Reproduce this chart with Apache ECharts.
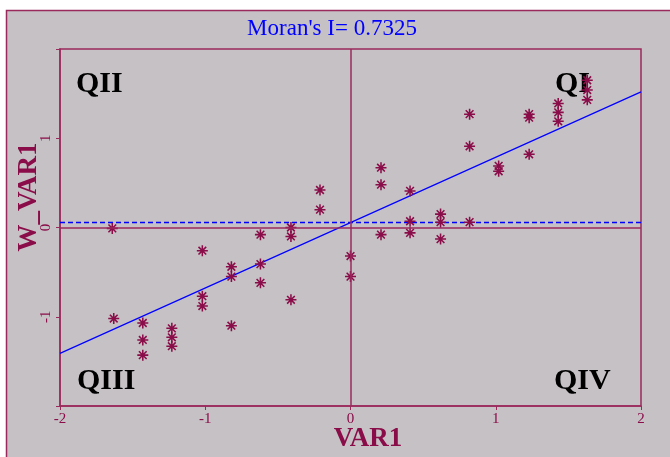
<!DOCTYPE html>
<html>
<head>
<meta charset="utf-8">
<script src="https://cdn.jsdelivr.net/npm/echarts@6/dist/echarts.min.js"></script>
<style>
html,body{margin:0;padding:0;background:#fff;}
#c{width:670px;height:457px;}
</style>
</head>
<body>
<div id="c"></div>
<script>
// Data (VAR1, W_VAR1)
const varX = [-1.64,-1.63,-1.43,-1.43,-1.43,-1.23,-1.23,-1.23,-1.02,-1.02,-1.02,-0.82,-0.82,-0.82,
  -0.62,-0.62,-0.62,-0.41,-0.41,-0.41,-0.21,-0.21,0,0,
  0.21,0.21,0.21,0.41,0.41,0.41,0.62,0.62,0.62,0.82,0.82,0.82,
  1.02,1.02,1.23,1.23,1.23,1.43,1.43,1.43,1.63,1.63,1.63];
const wVar = [-0.01,-1.02,-1.07,-1.26,-1.43,-1.13,-1.23,-1.33,-0.26,-0.77,-0.88,-0.44,-0.55,-1.10,
  -0.08,-0.41,-0.62,0.00,-0.10,-0.81,0.42,0.20,-0.32,-0.55,
  0.67,0.48,-0.08,0.41,0.07,-0.06,0.15,0.06,-0.13,1.27,0.91,0.06,
  0.69,0.63,1.27,1.23,0.82,1.39,1.29,1.19,1.65,1.54,1.43];
const fitLine = [[-2,-1.41],[2,1.52]];
const meanLine = [[-2,0.056],[2,0.056]];
const xTicks = [-2,-1,0,1,2];
const yTickLabels = ['-1','0','1'];
const titleText = "Moran's I= 0.7325";
const quadLabels = ['QII','QI','QIII','QIV'];

const maroon = '#9a2a5c';
const dark = '#8a0c48';
const serif = '"Liberation Serif","DejaVu Serif",serif';
const star = 'path://M-5,-0.7L5,-0.7L5,0.7L-5,0.7Z M-0.7,-5L0.7,-5L0.7,5L-0.7,5Z M-4,-3L-3,-4L4,3L3,4Z M3,-4L4,-3L-3,4L-4,3Z M-1.6,-1.6L1.6,-1.6L1.6,1.6L-1.6,1.6Z';

const pts = varX.map((x,i)=>[x,wVar[i]]);
const chart = echarts.init(document.getElementById('c'), null, {renderer:'canvas'});
chart.setOption({
  backgroundColor:'#ffffff',
  animation:false,
  graphic:[
    {type:'rect', z:-10, shape:{x:6.5,y:10.5,width:700,height:500}, style:{fill:'#c5c1c5', stroke:maroon, lineWidth:1.5}},
    {type:'text', x:332, y:29, style:{text:titleText, font:'23px '+serif, fill:'#0000ff', align:'center', verticalAlign:'middle'}},
    {type:'text', x:76, y:84, style:{text:quadLabels[0], font:'bold 30px '+serif, fill:'#000', verticalAlign:'middle'}},
    {type:'text', x:555, y:84, style:{text:quadLabels[1], font:'bold 30px '+serif, fill:'#000', verticalAlign:'middle'}, z:1},
    {type:'text', x:77, y:381, style:{text:quadLabels[2], font:'bold 30px '+serif, fill:'#000', verticalAlign:'middle'}},
    {type:'text', x:554, y:381, style:{text:quadLabels[3], font:'bold 30px '+serif, fill:'#000', verticalAlign:'middle'}},
    {type:'text', x:368, y:439, style:{text:'VAR1', font:'bold 27px '+serif, fill:dark, align:'center', verticalAlign:'middle'}},
    {type:'text', x:29, y:197, rotation:Math.PI/2, style:{text:'W_VAR1', font:'bold 27px '+serif, fill:dark, align:'center', verticalAlign:'middle'}}
  ],
  grid:{left:60, right:29, top:49, bottom:51, show:true, borderColor:maroon, borderWidth:1.5, backgroundColor:'transparent'},
  xAxis:{type:'value', min:-2, max:2, interval:1,
    axisLine:{onZero:false, lineStyle:{color:maroon, width:1.5}},
    axisTick:{show:true, length:4, lineStyle:{color:maroon}},
    splitLine:{show:false},
    axisLabel:{color:dark, fontFamily:serif, fontSize:15, margin:6, formatter:v=>String(v)}
  },
  yAxis:{type:'value', min:-2, max:2, interval:1,
    axisLine:{onZero:false, lineStyle:{color:maroon, width:1.5}},
    axisTick:{show:true, length:4, lineStyle:{color:maroon}},
    splitLine:{show:false},
    axisLabel:{color:dark, fontFamily:serif, fontSize:15, rotate:90, margin:6,
      formatter:v=>yTickLabels.indexOf(String(v))>=0?String(v):''}
  },
  series:[
    {type:'line', data:meanLine, symbol:'none', silent:true, z:2,
      lineStyle:{color:'#0000ff', width:1.5, type:[5,3]},
      markLine:{silent:true, symbol:'none', label:{show:false},
        lineStyle:{color:maroon, width:1.5, type:'solid'},
        data:[{xAxis:0},{yAxis:0}]}},
    {type:'line', data:fitLine, symbol:'none', silent:true, z:3,
      lineStyle:{color:'#0000ff', width:1.2}},
    {type:'scatter', data:pts, symbol:star, symbolSize:11, z:4,
      itemStyle:{color:dark, opacity:1}}
  ]
});
</script>
</body>
</html>
